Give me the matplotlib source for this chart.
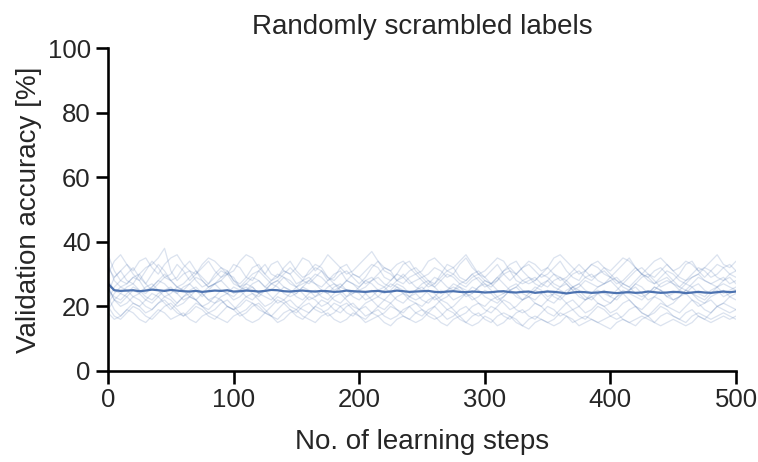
import numpy as np
import matplotlib
matplotlib.use('Agg')
import matplotlib.pyplot as plt
import seaborn as sns

# accuracy of the individual runs, sampled every 5 learning steps
run_a = [30, 34, 36, 33, 31, 34, 35, 32, 30, 33, 35, 36, 33, 31, 30, 33, 35, 34, 32, 30, 31, 34, 36, 35, 32, 30, 33, 34, 31, 30, 32, 35, 34, 31, 33, 36, 34, 32, 30, 31, 33, 35, 37, 34, 32, 31, 33, 34, 32, 30, 31, 34, 35, 33, 31, 32, 34, 36, 33, 30, 31, 33, 35, 34, 31, 30, 32, 34, 33, 31, 32, 35, 36, 34, 32, 30, 31, 33, 34, 32, 31, 33, 35, 34, 32, 30, 32, 34, 35, 33, 31, 32, 34, 33, 31, 32, 34, 36, 33, 32, 34]
run_b = [36, 31, 28, 30, 32, 29, 27, 30, 33, 31, 28, 29, 32, 34, 31, 29, 27, 30, 32, 31, 28, 27, 29, 32, 33, 30, 28, 29, 31, 30, 27, 28, 31, 33, 32, 29, 28, 30, 31, 29, 27, 29, 32, 34, 31, 30, 28, 29, 31, 32, 30, 28, 27, 30, 33, 32, 29, 28, 30, 31, 29, 27, 28, 31, 33, 34, 31, 29, 28, 30, 32, 30, 28, 29, 31, 33, 31, 29, 30, 32, 30, 28, 27, 29, 31, 32, 30, 29, 31, 33, 31, 29, 28, 30, 32, 31, 29, 30, 32, 33, 31]
run_c = [24, 29, 31, 28, 27, 30, 32, 33, 35, 38, 31, 28, 30, 31, 28, 26, 27, 29, 31, 30, 27, 26, 28, 30, 31, 29, 27, 28, 30, 32, 30, 28, 27, 29, 31, 29, 27, 26, 28, 30, 29, 27, 28, 30, 32, 31, 28, 27, 29, 30, 28, 26, 27, 29, 31, 30, 28, 27, 29, 30, 28, 27, 29, 31, 32, 30, 28, 27, 28, 30, 29, 27, 26, 28, 30, 31, 29, 28, 30, 31, 29, 27, 28, 30, 32, 30, 28, 27, 29, 31, 30, 28, 27, 29, 30, 32, 31, 29, 28, 30, 29]
run_d = [33, 28, 26, 27, 29, 28, 25, 26, 28, 30, 28, 26, 25, 27, 29, 28, 26, 27, 29, 31, 28, 26, 25, 27, 28, 26, 25, 27, 29, 28, 26, 27, 28, 30, 29, 27, 25, 26, 28, 27, 25, 26, 28, 29, 27, 26, 28, 30, 28, 26, 25, 27, 29, 28, 26, 25, 27, 28, 30, 28, 26, 27, 29, 27, 25, 26, 28, 29, 27, 26, 28, 30, 29, 27, 25, 26, 28, 27, 26, 27, 29, 28, 26, 25, 27, 29, 30, 28, 26, 27, 28, 26, 25, 27, 29, 28, 27, 26, 28, 29, 27]
run_e = [28, 25, 24, 26, 27, 25, 24, 26, 28, 27, 25, 24, 26, 27, 25, 23, 25, 27, 28, 26, 24, 25, 27, 26, 24, 25, 27, 28, 26, 25, 24, 26, 28, 27, 25, 24, 26, 27, 25, 24, 26, 28, 27, 25, 24, 25, 27, 26, 24, 25, 27, 28, 26, 24, 25, 27, 26, 25, 24, 26, 28, 27, 25, 24, 26, 27, 25, 24, 25, 27, 28, 26, 25, 24, 26, 27, 25, 24, 26, 27, 28, 26, 24, 25, 27, 26, 24, 25, 27, 28, 27, 25, 24, 26, 27, 25, 24, 26, 27, 26, 25]
run_f = [21, 24, 26, 25, 23, 24, 26, 27, 25, 23, 24, 26, 25, 23, 22, 24, 26, 27, 25, 24, 23, 25, 26, 24, 23, 25, 27, 26, 24, 23, 24, 26, 25, 23, 24, 26, 27, 25, 23, 24, 25, 24, 22, 23, 25, 27, 26, 24, 23, 25, 26, 24, 22, 23, 25, 26, 25, 23, 24, 26, 27, 25, 23, 24, 25, 23, 22, 24, 26, 25, 23, 24, 26, 27, 25, 23, 22, 24, 25, 24, 23, 25, 27, 26, 24, 23, 24, 26, 25, 23, 24, 25, 27, 26, 24, 23, 25, 26, 24, 25, 26]
run_g = [26, 22, 21, 23, 25, 24, 22, 21, 23, 25, 26, 24, 22, 23, 25, 24, 22, 21, 23, 24, 26, 25, 23, 22, 24, 25, 23, 21, 22, 24, 26, 24, 22, 23, 25, 24, 22, 21, 23, 25, 24, 22, 23, 25, 26, 24, 22, 21, 23, 24, 22, 21, 23, 25, 24, 22, 23, 24, 26, 25, 23, 22, 21, 23, 25, 24, 22, 23, 25, 24, 22, 21, 23, 25, 26, 24, 22, 23, 24, 22, 21, 23, 25, 24, 23, 22, 24, 26, 25, 23, 22, 23, 25, 24, 22, 21, 23, 24, 25, 23, 24]
run_h = [19, 22, 24, 23, 21, 20, 22, 24, 23, 21, 19, 21, 23, 24, 22, 20, 21, 23, 22, 20, 19, 21, 23, 24, 22, 20, 21, 23, 22, 20, 19, 21, 23, 22, 20, 21, 23, 24, 22, 20, 19, 21, 22, 20, 19, 21, 23, 24, 22, 21, 20, 22, 23, 21, 19, 20, 22, 24, 23, 21, 20, 22, 23, 21, 19, 20, 22, 23, 21, 20, 22, 24, 23, 21, 19, 20, 22, 23, 21, 20, 21, 23, 24, 22, 20, 19, 21, 23, 22, 20, 21, 23, 24, 22, 20, 21, 22, 20, 21, 23, 22]
run_i = [23, 19, 17, 19, 21, 20, 18, 19, 21, 22, 20, 18, 17, 19, 21, 20, 18, 19, 21, 22, 20, 18, 19, 21, 20, 18, 17, 19, 21, 22, 20, 19, 18, 20, 22, 21, 19, 18, 20, 21, 19, 17, 18, 20, 22, 21, 19, 18, 20, 21, 19, 18, 20, 22, 21, 19, 17, 18, 20, 21, 19, 18, 20, 22, 21, 19, 18, 19, 21, 20, 18, 17, 19, 21, 22, 20, 18, 19, 21, 20, 18, 19, 21, 22, 20, 18, 17, 19, 21, 20, 19, 18, 20, 22, 21, 19, 18, 20, 21, 20, 19]
run_j = [20, 17, 16, 18, 20, 19, 17, 16, 18, 20, 21, 19, 17, 18, 20, 19, 17, 16, 18, 20, 19, 17, 18, 20, 21, 19, 17, 16, 18, 19, 17, 16, 18, 20, 19, 17, 18, 20, 21, 19, 17, 16, 18, 19, 17, 16, 17, 19, 20, 18, 17, 19, 20, 18, 16, 17, 19, 20, 18, 17, 18, 20, 19, 17, 16, 18, 19, 17, 16, 18, 20, 19, 17, 18, 19, 17, 16, 18, 20, 19, 17, 16, 17, 19, 20, 18, 17, 18, 20, 19, 17, 16, 18, 19, 17, 16, 18, 20, 19, 18, 19]
run_k = [18, 16, 17, 19, 18, 16, 15, 17, 19, 18, 16, 17, 18, 16, 15, 17, 18, 17, 16, 15, 17, 18, 16, 15, 16, 18, 17, 15, 16, 18, 19, 17, 16, 15, 17, 18, 16, 15, 16, 18, 17, 15, 16, 17, 15, 14, 16, 17, 16, 15, 16, 18, 17, 15, 14, 16, 17, 15, 14, 15, 17, 16, 14, 15, 17, 16, 14, 13, 15, 16, 15, 14, 15, 17, 16, 14, 15, 16, 15, 14, 13, 15, 16, 15, 14, 16, 17, 15, 14, 15, 16, 15, 14, 15, 17, 16, 15, 16, 17, 16, 17]
run_l = [32, 29, 31, 33, 30, 28, 31, 34, 32, 29, 30, 33, 31, 28, 30, 32, 34, 31, 29, 30, 33, 32, 29, 28, 31, 33, 30, 29, 32, 34, 31, 29, 30, 32, 31, 28, 29, 32, 33, 30, 29, 31, 33, 32, 29, 28, 30, 33, 34, 31, 29, 30, 32, 31, 29, 30, 33, 35, 32, 30, 29, 31, 33, 30, 28, 30, 32, 33, 31, 29, 30, 32, 34, 31, 29, 28, 31, 33, 32, 30, 29, 31, 33, 35, 32, 30, 29, 31, 32, 30, 28, 30, 33, 34, 31, 29, 31, 33, 32, 30, 31]
run_m = [22, 26, 28, 27, 29, 30, 27, 25, 27, 29, 28, 26, 27, 29, 31, 28, 26, 27, 28, 30, 29, 26, 27, 29, 28, 26, 28, 30, 29, 27, 26, 28, 29, 27, 26, 28, 30, 31, 28, 27, 26, 28, 29, 27, 26, 28, 30, 29, 27, 28, 29, 27, 26, 28, 30, 29, 27, 26, 28, 29, 27, 26, 28, 30, 31, 28, 27, 28, 29, 27, 26, 28, 29, 28, 26, 27, 29, 30, 28, 27, 28, 29, 27, 26, 28, 30, 29, 27, 28, 29, 27, 26, 28, 29, 30, 28, 27, 28, 29, 27, 28]
run_n = [25, 23, 22, 24, 26, 25, 23, 22, 24, 25, 23, 21, 23, 25, 26, 24, 22, 23, 25, 24, 22, 23, 25, 26, 24, 23, 22, 24, 26, 25, 23, 22, 24, 25, 23, 22, 24, 26, 25, 23, 22, 24, 25, 23, 22, 24, 26, 25, 23, 22, 23, 25, 24, 22, 23, 25, 26, 24, 22, 23, 25, 24, 22, 23, 25, 26, 24, 23, 22, 24, 25, 23, 22, 24, 26, 25, 23, 22, 24, 25, 23, 22, 24, 25, 26, 24, 22, 23, 25, 24, 22, 23, 25, 24, 23, 22, 24, 25, 23, 24, 25]
run_o = [26, 22, 20, 21, 23, 22, 20, 19, 21, 23, 22, 20, 21, 23, 22, 20, 19, 21, 22, 20, 19, 20, 22, 21, 19, 18, 20, 22, 21, 19, 18, 20, 21, 19, 18, 19, 21, 20, 18, 17, 19, 20, 18, 17, 18, 20, 19, 17, 16, 18, 19, 17, 16, 17, 19, 18, 16, 15, 17, 18, 16, 15, 17, 18, 17, 15, 14, 16, 17, 16, 15, 16, 18, 17, 15, 16, 17, 16, 15, 16, 17, 18, 16, 15, 16, 17, 16, 15, 17, 18, 17, 16, 15, 17, 18, 17, 16, 17, 18, 17, 16]
runs = [run_a, run_b, run_c, run_d, run_e, run_f, run_g, run_h,
        run_i, run_j, run_k, run_l, run_m, run_n, run_o]

# average over all runs
mean_acc = [27, 25, 24.8, 24.9, 25.0, 24.7, 24.9, 25.2, 25.0, 24.8, 25.1, 24.9, 24.7, 24.6, 24.8, 24.5, 24.7, 24.9, 24.8, 25.0, 24.6, 24.7, 24.9, 24.8, 24.6, 24.8, 25.1, 25.0, 24.7, 24.6, 24.8, 24.9, 24.7, 24.6, 24.8, 24.7, 24.5, 24.6, 24.9, 24.7, 24.6, 24.5, 24.7, 24.8, 24.5, 24.6, 24.9, 24.7, 24.5, 24.6, 24.7, 24.8, 24.5, 24.4, 24.6, 24.7, 24.5, 24.4, 24.6, 24.5, 24.3, 24.4, 24.6, 24.7, 24.4, 24.3, 24.5, 24.6, 24.2, 24.4, 24.6, 24.5, 24.3, 24.0, 24.3, 24.5, 24.4, 24.2, 24.3, 24.5, 24.3, 24.1, 24.3, 24.4, 24.2, 24.3, 24.6, 24.4, 24.2, 24.3, 24.5, 24.4, 24.1, 24.3, 24.5, 24.3, 24.2, 24.4, 24.6, 24.4, 24.6]

x_ticks = [0, 100, 200, 300, 400, 500]
y_ticks = [0, 20, 40, 60, 80, 100]

sns.set_theme(style='ticks', context='talk')
plt.rcParams['font.family'] = ['Liberation Sans', 'DejaVu Sans']

color = sns.color_palette('deep')[0]

fig = plt.figure(figsize=(7.58, 4.62), dpi=100)
ax = fig.add_axes([0.1425, 0.197, 0.8285, 0.699])

for run in runs:
    xs = np.linspace(0, 500, len(run))
    ax.plot(xs, run, color=color, alpha=0.2, lw=0.9)
ax.plot(np.linspace(0, 500, len(mean_acc)), mean_acc, color=color, lw=1.6)

ax.set_xlim(0, 500)
ax.set_ylim(0, 100)
ax.set_xticks(x_ticks)
ax.set_yticks(y_ticks)
ax.tick_params(labelsize=18.5, colors='black', labelcolor='#262626')
ax.set_xlabel('No. of learning steps', fontsize=20, labelpad=12)
ax.set_ylabel('Validation accuracy [%]', fontsize=20, labelpad=4)
ax.set_title('Randomly scrambled labels', fontsize=20, pad=10)
for s in ['left', 'bottom']:
    ax.spines[s].set_color('black')
sns.despine(ax=ax)

fig.savefig('out.png', dpi=100)
